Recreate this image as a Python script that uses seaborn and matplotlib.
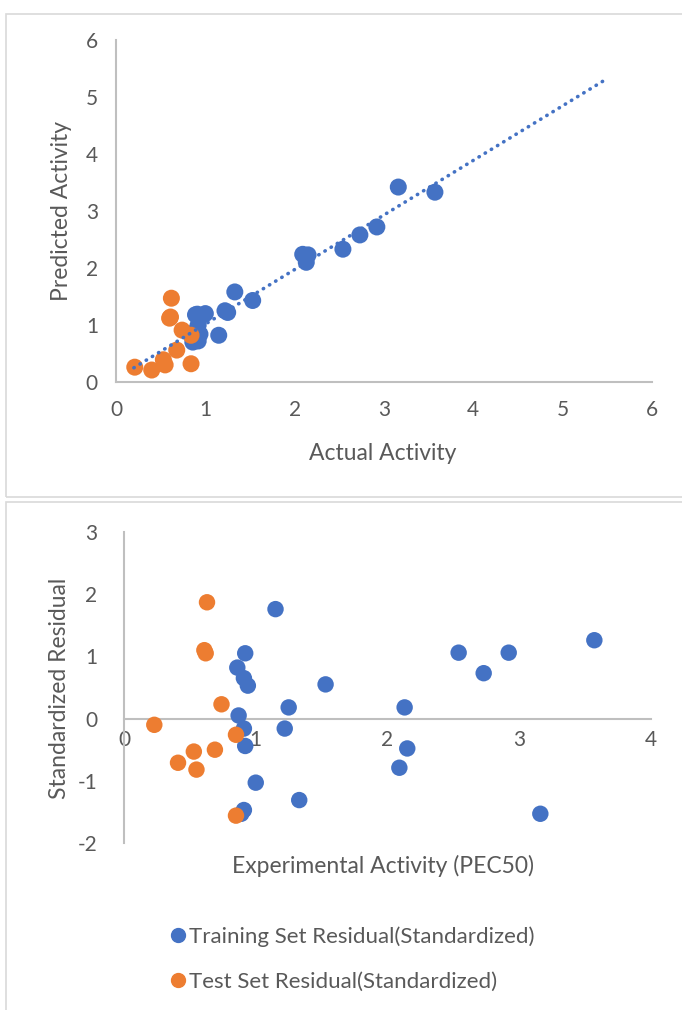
import matplotlib
matplotlib.use('Agg')
import matplotlib.pyplot as plt
import seaborn as sns
import numpy as np
import pandas as pd
from matplotlib.patches import Rectangle
from matplotlib.lines import Line2D

# top chart: actual vs predicted
train_actual = [0.86, 0.87, 0.89, 0.91, 0.91, 0.91, 0.92, 0.92, 0.94, 1.00, 1.15, 1.22,
                1.25, 1.33, 1.53, 2.09, 2.13, 2.15, 2.54, 2.73, 2.92, 3.16, 3.57]
train_pred = [0.70, 0.86, 1.18, 0.79, 0.94, 1.19, 0.72, 1.00, 0.84, 1.20, 0.82, 1.25,
              1.22, 1.58, 1.43, 2.24, 2.10, 2.23, 2.33, 2.58, 2.72, 3.42, 3.33]
test_actual = [0.21, 0.40, 0.53, 0.55, 0.60, 0.61, 0.62, 0.68, 0.74, 0.84, 0.84]
test_pred = [0.26, 0.21, 0.39, 0.30, 1.12, 1.14, 1.47, 0.56, 0.91, 0.82, 0.32]
trend_range = [0.2, 5.5]  # excel trendline with forecast

# bottom chart: standardized residuals
train_resid = [0.82, 0.05, -1.53, 0.65, -0.16, -1.47, 1.05, -0.44, 0.53, -1.03, 1.76, -0.16,
               0.18, -1.31, 0.55, -0.79, 0.18, -0.48, 1.06, 0.73, 1.06, -1.53, 1.26]
test_exp = [0.23, 0.41, 0.53, 0.55, 0.61, 0.62, 0.63, 0.69, 0.74, 0.85, 0.85]
test_resid = [-0.10, -0.71, -0.53, -0.82, 1.10, 1.05, 1.87, -0.50, 0.23, -0.26, -1.56]

BLUE = '#4472C4'
ORANGE = '#ED7D31'
GRID = '#BFBFBF'
TXT = '#595959'
TICK_FS = 15
LAB_FS = 16.5

sns.set_style('white')
plt.rcParams['font.family'] = ['Lato', 'DejaVu Sans']
plt.rcParams['axes.unicode_minus'] = False
plt.rcParams['text.color'] = TXT
plt.rcParams['xtick.color'] = TXT
plt.rcParams['ytick.color'] = TXT

fig = plt.figure(figsize=(6.82, 10.10), dpi=100)
W, H = 682, 1010

# chart frames
fig.patches.append(Rectangle((6 / W, 1 - 497 / H), 700 / W, 483 / H, transform=fig.transFigure,
                             fill=False, edgecolor='#D9D9D9', lw=1.2))
fig.patches.append(Rectangle((6 / W, -0.05), 700 / W, 1 - 502 / H + 0.05, transform=fig.transFigure,
                             fill=False, edgecolor='#D9D9D9', lw=1.2))

# ---- top
ax1 = fig.add_axes([116 / W, 1 - 382 / H, (652 - 116) / W, (382 - 40) / H])
sns.scatterplot(x=train_actual, y=train_pred, color=BLUE, s=150, edgecolor='none', ax=ax1, zorder=3)
sns.scatterplot(x=test_actual, y=test_pred, color=ORANGE, s=150, edgecolor='none', ax=ax1, zorder=4)
k, b = np.polyfit(train_actual, train_pred, 1)
tx = np.array(trend_range)
sns.lineplot(x=tx, y=k * tx + b, color=BLUE, lw=2.6, ax=ax1, zorder=5,
             linestyle=(0, (0.1, 1.9)), dash_capstyle='round')
ax1.set_xlim(0, 6)
ax1.set_ylim(0, 6)
ax1.set_xticks(range(7))
ax1.set_yticks(range(7))
ax1.tick_params(length=0, labelsize=TICK_FS, pad=13)
ax1.set_xlabel('')
ax1.set_ylabel('')
fig.text(383 / W, 1 - 453 / H, 'Actual Activity', fontsize=LAB_FS, color=TXT,
         ha='center', va='center')
fig.text(62 / W, 1 - 211 / H, 'Predicted Activity', fontsize=LAB_FS, color=TXT,
         ha='center', va='center', rotation=90)
sns.despine(ax=ax1)
for sp in ['left', 'bottom']:
    ax1.spines[sp].set_color(GRID)
    ax1.spines[sp].set_linewidth(1.5)

# ---- bottom
ax2 = fig.add_axes([124 / W, 1 - 843 / H, (651 - 124) / W, (843 - 532) / H])
sns.scatterplot(x=train_actual, y=train_resid, color=BLUE, s=140, edgecolor='none', ax=ax2,
                zorder=3, legend=False)
sns.scatterplot(x=test_exp, y=test_resid, color=ORANGE, s=140, edgecolor='none', ax=ax2,
                zorder=4, legend=False)
ax2.set_xlim(0, 4)
ax2.set_ylim(-2, 3)
ax2.set_xticks(range(5))
ax2.set_yticks(range(-2, 4))
ax2.spines['left'].set_position(('data', 0))
ax2.spines['bottom'].set_position(('data', 0))
sns.despine(ax=ax2)
for sp in ['left', 'bottom']:
    ax2.spines[sp].set_color(GRID)
    ax2.spines[sp].set_linewidth(1.5)
ax2.tick_params(axis='x', length=0, labelsize=TICK_FS, pad=8)
ax2.tick_params(axis='y', length=0, labelsize=TICK_FS, pad=19)
ax2.set_xlabel('')
ax2.set_ylabel('')
fig.text(383 / W, 1 - 866 / H, 'Experimental Activity (PEC50)', fontsize=LAB_FS, color=TXT,
         ha='center', va='center')
fig.text(60 / W, 1 - 688 / H, 'Standardized Residual', fontsize=LAB_FS, color=TXT,
         ha='center', va='center', rotation=90)

handles = [Line2D([], [], marker='o', ls='none', color=BLUE, markersize=10),
           Line2D([], [], marker='o', ls='none', color=ORANGE, markersize=10)]
fig.legend(handles, ['Training Set Residual(Standardized)', 'Test Set Residual(Standardized)'],
           loc='center left', bbox_to_anchor=(145 / W, 1 - 959 / H), frameon=False,
           fontsize=16, handletextpad=-0.1, labelspacing=1.1, handlelength=1.2,
           labelcolor=TXT)

fig.savefig('out.png', dpi=100)
